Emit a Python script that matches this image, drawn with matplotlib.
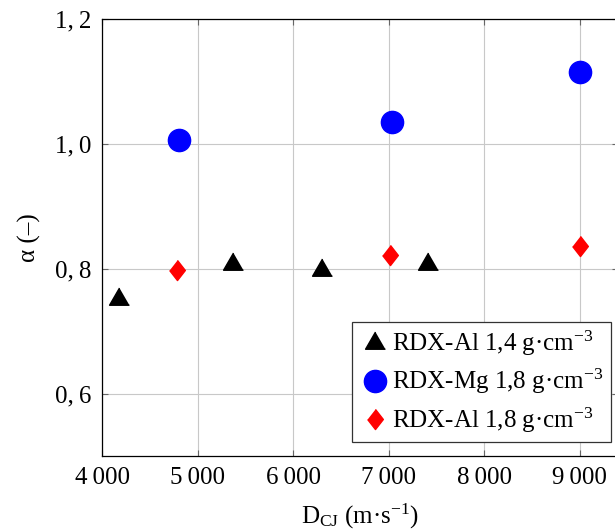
import matplotlib.pyplot as plt
from matplotlib.ticker import FixedLocator

# RDX-Al 1,4 g/cm3
al14_d = [4170, 5370, 6300, 7410]
al14_a = [0.752, 0.808, 0.799, 0.808]

# RDX-Mg 1,8 g/cm3
mg18_d = [4800, 7030, 9000]
mg18_a = [1.007, 1.036, 1.116]

# RDX-Al 1,8 g/cm3
al18_d = [4785, 7015, 9000]
al18_a = [0.798, 0.823, 0.836]

x_ticks = [4000, 5000, 6000, 7000, 8000, 9000]
y_ticks = [0.6, 0.8, 1.0, 1.2]


def main():
    plt.rcParams['font.family'] = ['Liberation Serif', 'DejaVu Serif']
    plt.rcParams['mathtext.fontset'] = 'custom'
    plt.rcParams['mathtext.rm'] = 'Liberation Serif'
    plt.rcParams['mathtext.it'] = 'Liberation Serif:italic'
    plt.rcParams['font.size'] = 18

    fig = plt.figure(figsize=(6.15, 5.31), dpi=100)
    ax = fig.add_axes([0.1665, 0.141, 0.838, 0.8225])

    # форми маркерів як у pgfplots
    tri = [(0, 0.577), (-0.5, -0.289), (0.5, -0.289)]
    dia = [(0, 1), (0.78, 0), (0, -1), (-0.78, 0)]

    ax.plot(al14_d, al14_a, ls='none', marker=tri, ms=16.5, color='black',
            label='RDX-Al 1,4 g·cm$^{-3}$', zorder=3)
    ax.plot(mg18_d, mg18_a, ls='none', marker='o', ms=16, color='#0000ff',
            label='RDX-Mg 1,8 g·cm$^{-3}$', zorder=3)
    ax.plot(al18_d, al18_a, ls='none', marker=dia, ms=14.5, color='#ff0000',
            label='RDX-Al 1,8 g·cm$^{-3}$', zorder=3)

    ax.set_xlim(4000, 9400)
    ax.set_ylim(0.5, 1.2)
    ax.xaxis.set_major_locator(FixedLocator(x_ticks))
    ax.yaxis.set_major_locator(FixedLocator(y_ticks))
    ax.set_xticklabels([f"{v // 1000}\u2009{v % 1000:03d}" for v in x_ticks])
    ax.set_yticklabels([f"{v:.1f}".replace('.', ',\u2009') for v in y_ticks])

    ax.grid(True, color='#c8c8c8', lw=0.8)
    ax.set_axisbelow(True)
    ax.tick_params(direction='in', length=4, width=0.8, color='#666666',
                   top=True, right=True, pad=8)
    for s in ax.spines.values():
        s.set_linewidth(0.9)

    ax.set_xlabel('D$_{\\mathrm{CJ}}$ (m·s$^{-1}$)', labelpad=9)
    ax.set_ylabel('α (–)', labelpad=10)

    leg = ax.legend(loc='lower right', bbox_to_anchor=(0.993, 0.1676),
                    bbox_transform=fig.transFigure, borderaxespad=0,
                    fancybox=False, edgecolor='#333333', framealpha=1,
                    handletextpad=0.1, handlelength=1.2, labelspacing=0.35,
                    borderpad=0.3, fontsize=18)
    leg.get_frame().set_linewidth(0.9)

    fig.savefig('out.png', dpi=100)


if __name__ == "__main__":
    main()
